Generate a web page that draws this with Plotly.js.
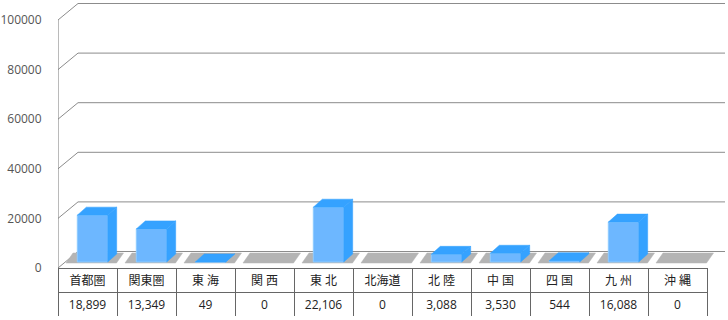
<!DOCTYPE html>
<html>
<head>
<meta charset="utf-8">
<script src="https://cdn.plot.ly/plotly-3.0.1.min.js"></script>
<style>
  html, body { margin: 0; padding: 0; background: #ffffff; }
  #chart { width: 728px; height: 320px; }
</style>
</head>
<body>
<div id="chart"></div>
<script>
// ---- data ----
const categories = ['首都圏', '関東圏', '東 海', '関 西', '東 北', '北海道', '北 陸', '中 国', '四 国', '九 州', '沖 縄'];
const values = [18899, 13349, 49, 0, 22106, 0, 3088, 3530, 544, 16088, 0];
const yTickValues = [0, 20000, 40000, 60000, 80000, 100000];
const yTickLabels = ['0', '20000', '40000', '60000', '80000', '100000'];

// ---- geometry (pixel-based pseudo-3D, converted to axis units) ----
const W = 728, H = 320;
const plotLeft = 58, floorY = 268, colPx = 59;
const pxPerValue = 248 / 100000;
const ux = p => p / colPx;            // px -> category units
const uy = p => p / pxPerValue;        // px -> value units
const yMax = floorY / pxPerValue;
const xMax = (W - plotLeft) / colPx;

const depthX = ux(20), depthY = uy(16.5), gridEnd = ux(725 - plotLeft);

// grid (back wall + left side wall)
const gx = [], gy = [];
yTickValues.forEach(t => {
  gx.push(0, depthX, gridEnd, null);
  gy.push(t, t + depthY, t + depthY, null);
});
const axX = [0, 0], axY = [0, yTickValues[yTickValues.length - 1]];

// floor shadows
const sx = [], sy = [];
const shB = uy(5), shT = uy(15), shSlant = ux(7);
categories.forEach((c, i) => {
  const x0 = i + ux(8), x1 = i + ux(58.5);
  sx.push(x0, x1, x1 + shSlant, x0 + shSlant, x0, null);
  sy.push(shB, shB, shT, shT, shB, null);
});

// bars
const fx = [], fy = [], tx = [], ty = [], rx = [], ry = [];
const base = uy(6), bdx = ux(9), bdy = uy(8);
values.forEach((v, i) => {
  if (v <= 0) return;
  const x0 = i + ux(19.3), x1 = i + ux(49.7);
  const top = base + v;
  fx.push(x0, x1, x1, x0, x0, null);
  fy.push(base, base, top, top, base, null);
  rx.push(x1, x1 + bdx, x1 + bdx, x1, x1, null);
  ry.push(base, base + bdy, top + bdy, top, base, null);
  tx.push(x0, x1, x1 + bdx, x0 + bdx, x0, null);
  ty.push(top, top, top + bdy, top + bdy, top, null);
});

const poly = (x, y, fill, line, lw) => ({
  type: 'scatter', mode: 'lines', x, y, fill: 'toself', fillcolor: fill,
  line: { color: line, width: lw }, hoverinfo: 'skip', showlegend: false,
  xaxis: 'x', yaxis: 'y'
});

const traces = [
  { type: 'scatter', mode: 'lines', x: gx, y: gy, line: { color: '#8c8c8c', width: 1 },
    hoverinfo: 'skip', showlegend: false },
  { type: 'scatter', mode: 'lines', x: axX, y: axY, line: { color: '#777777', width: 1 },
    hoverinfo: 'skip', showlegend: false },
  poly(sx, sy, '#b4b4b4', '#b4b4b4', 0.5),
  poly(fx, fy, '#6db7ff', '#8ecbff', 1),
  poly(rx, ry, '#35a2ff', '#35a2ff', 0.5),
  poly(tx, ty, '#35a2ff', '#35a2ff', 0.5),
  {
    type: 'table',
    domain: { x: [plotLeft / W, 707 / W], y: [1 - 317 / H, 1 - floorY / H] },
    columnwidth: categories.map(() => 1),
    header: {
      values: categories,
      height: 24,
      align: 'center',
      fill: { color: '#ffffff' },
      line: { color: '#666666', width: 1 },
      font: { family: '"Open Sans", "Noto Sans CJK JP", sans-serif', size: 12, color: '#222222' }
    },
    cells: {
      values: values.map(v => [v.toLocaleString('en-US')]),
      height: 24,
      align: 'center',
      fill: { color: '#ffffff' },
      line: { color: '#666666', width: 1 },
      font: { family: '"Open Sans", "Noto Sans CJK JP", sans-serif', size: 12, color: '#222222' }
    }
  }
];

const layout = {
  width: W, height: H,
  margin: { l: 0, r: 0, t: 0, b: 0, pad: 0 },
  paper_bgcolor: '#ffffff', plot_bgcolor: 'rgba(0,0,0,0)',
  showlegend: false,
  xaxis: {
    domain: [plotLeft / W, 1], range: [0, xMax],
    showgrid: false, zeroline: false, showline: false, showticklabels: false, ticks: '',
    fixedrange: true
  },
  yaxis: {
    domain: [1 - floorY / H, 1], range: [0, yMax],
    showgrid: false, zeroline: false, showline: false,
    tickmode: 'array', tickvals: yTickValues, ticktext: yTickLabels,
    ticks: 'outside', ticklen: 13, tickcolor: 'rgba(0,0,0,0)',
    tickfont: { family: '"Open Sans", sans-serif', size: 12, color: '#555555' },
    fixedrange: true
  }
};

Plotly.newPlot('chart', traces, layout, { staticPlot: true, displayModeBar: false });
</script>
</body>
</html>
